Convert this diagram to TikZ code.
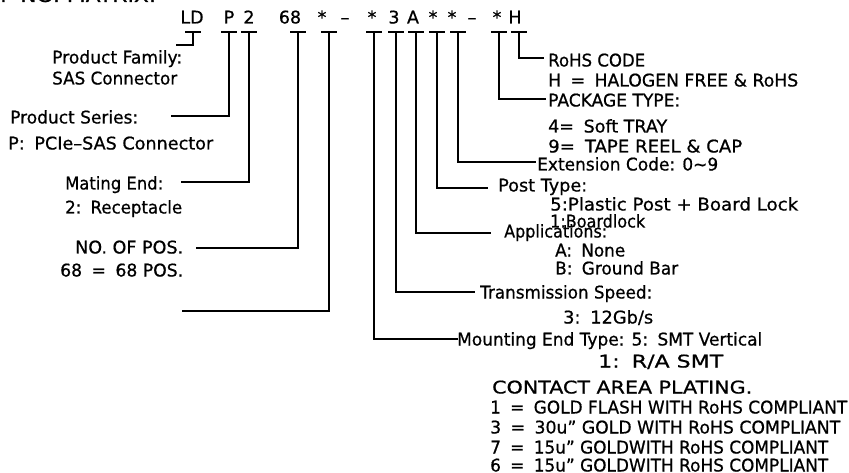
\documentclass[tikz,border=0pt]{standalone}
\usepackage{fontspec}
\setmainfont{DejaVu Sans}[FakeBold=0.7]
\usepackage{graphicx}
\newcommand\fitto[2]{\resizebox{#1pt}{\height}{#2}}
\newcommand\dsp{\hspace{0.55em}}
\tikzset{
  lbl/.style={anchor=base west,inner sep=0pt,font=\fontsize{17.5}{20}\selectfont},
  codech/.style={anchor=base,inner sep=0pt,font=\fontsize{17.5}{20}\selectfont},
  ln/.style={line width=1.2pt,line cap=rect},
}
\newcommand\lab[5]{\node[lbl] (#1) at (#2,#4+6.5) {\fitto{#3}{#5}};}
\begin{document}
\begin{tikzpicture}[x=1pt,y=-1pt]
\useasboundingbox (0,0) rectangle (849,473);
% title (cut at top)
\node[lbl] (title) at (0,2) {\fitto{156}{P NO. MATRIX:}};
% code row
\node[codech] (cLD) at (192,23.5) {LD};
\node[codech] (cP) at (229,23.5) {P};
\node[codech] (c2) at (249,23.5) {2};
\node[codech] (c68) at (290,23.5) {68};
\node[codech] (cs1) at (322,23.5) {*};
\node[codech] (cd1) at (345,23.5) {–};
\node[codech] (cs2) at (372,23.5) {*};
\node[codech] (c3) at (394,23.5) {3};
\node[codech] (cA) at (413,23.5) {A};
\node[codech] (cs3) at (433,23.5) {*};
\node[codech] (cs4) at (452,23.5) {*};
\node[codech] (cd2) at (472,23.5) {–};
\node[codech] (cs5) at (497,23.5) {*};
\node[codech] (cH) at (515,23.5) {H};
% T tops
\foreach \n/\x in {LD/193,P/229,2/249,68/298,s1/329,s2/374,3/396,A/416,s3/437,s4/458,s5/499,H/519}{
  \coordinate (t\n) at (\x,32);
  \draw[ln] ([xshift=-7pt]t\n) -- ([xshift=7pt]t\n);
}
% left labels
\lab{fam1}{52}{130}{57}{Product Family:}
\lab{fam2}{52}{125}{78}{SAS Connector}
\lab{ser1}{10}{128}{117}{Product Series:}
\lab{ser2}{8}{205}{143}{P:\dsp PCIe–SAS Connector}
\lab{mat1}{65}{98}{183}{Mating End:}
\lab{mat2}{65}{117}{207}{2:\dsp Receptacle}
\lab{pos1}{75}{108}{247}{NO. OF POS.}
\lab{pos2}{60}{123}{270}{68\dsp=\dsp 68 POS.}
% right labels
\lab{rohs1}{548}{97}{60}{RoHS CODE}
\lab{rohs2}{548}{250}{80}{H\dsp=\dsp HALOGEN FREE \& RoHS}
\lab{pkg1}{548}{132}{100}{PACKAGE TYPE:}
\lab{pkg2}{548}{119}{126}{4=\dsp Soft TRAY}
\lab{pkg3}{548}{194}{146}{9=\dsp TAPE REEL \& CAP}
\lab{ext}{537}{181}{164}{Extension Code: 0\textasciitilde 9}
\lab{post1}{498}{89}{185}{Post Type:}
\lab{post2}{550}{248}{204}{5:Plastic Post + Board Lock}
\lab{post3}{550}{95}{221}{1:Boardlock}
\lab{app1}{504}{103}{231}{Applications:}
\lab{app2}{555}{70}{250}{A:\dsp None}
\lab{app3}{555}{123}{268}{B:\dsp Ground Bar}
\lab{tr1}{480}{172}{292}{Transmission Speed:}
\lab{tr2}{563}{90}{317}{3:\dsp 12Gb/s}
\lab{mnt1}{457}{305}{339}{Mounting End Type: 5:\dsp SMT Vertical}
\lab{mnt2}{598}{125}{361}{1:\dsp R/A SMT}
\lab{pl0}{492}{260}{387}{CONTACT AREA PLATING.}
\lab{pl1}{490}{357}{407}{1\dsp=\dsp GOLD FLASH WITH RoHS COMPLIANT}
\lab{pl3}{490}{350}{427}{3\dsp=\dsp 30u” GOLD WITH RoHS COMPLIANT}
\lab{pl7}{490}{338}{447}{7\dsp=\dsp 15u” GOLDWITH RoHS COMPLIANT}
\lab{pl6}{490}{338}{465}{6\dsp=\dsp 15u” GOLDWITH RoHS COMPLIANT}
% connector ends
\coordinate (eLD) at (177,45);
\coordinate (eP) at (172,116);
\coordinate (e2) at (182,182);
\coordinate (e68) at (197,248);
\coordinate (es1) at (183,311);
\coordinate (es2) at (457,339);
\coordinate (e3) at (474,292);
\coordinate (eA) at (490,233);
\coordinate (es3) at (487,188);
\coordinate (es4) at (535,162);
\coordinate (es5) at (545,99);
\coordinate (eH) at (543,58);
\foreach \n in {LD,P,2,68,s1,s2,3,A,s3,s4,s5,H}{
  \draw[ln] (t\n) |- (e\n);
}
\end{tikzpicture}
\end{document}
